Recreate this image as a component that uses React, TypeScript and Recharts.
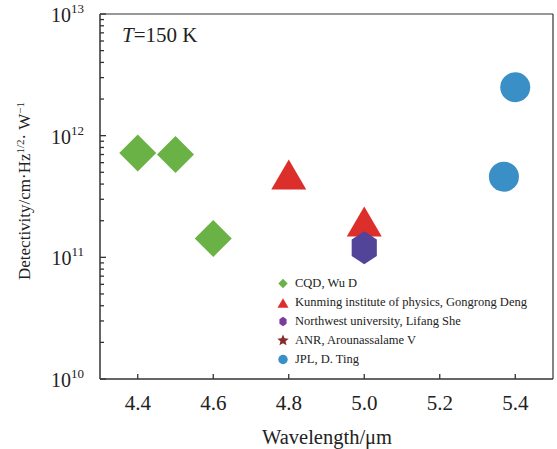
import { ScatterChart, Scatter, XAxis, YAxis, ReferenceLine, Label } from 'recharts';

const CQD_X = [4.4, 4.5, 4.6];
const CQD_Y = [7.2e11, 7.0e11, 1.43e11];
const KUNMING_X = [4.8, 5.0];
const KUNMING_Y = [4.8e11, 1.97e11];
const NW_X = [5.0];
const NW_Y = [1.2e11];
const ANR_X: number[] = [];
const ANR_Y: number[] = [];
const JPL_X = [5.4, 5.37];
const JPL_Y = [2.5e12, 4.6e11];

const X_TICKS = [4.4, 4.6, 4.8, 5.0, 5.2, 5.4];
const Y_MAJOR = [1e10, 1e11, 1e12, 1e13];
const Y_TICKS = [1e10, 1e11, 1e12].flatMap(d => [1, 2, 3, 4, 5, 6, 7, 8, 9].map(m => m * d)).concat([1e13]);

const FONT = '"Liberation Serif", "Times New Roman", serif';
const AXIS = '#333';
const PLOT_LEFT = 100;
const PLOT_BOTTOM = 379;

const zip = (xs: number[], ys: number[]) => xs.map((x, i) => ({ x, y: ys[i] }));

const SERIES = [
  { name: 'CQD, Wu D', color: '#6ab245', shape: 'diamond', data: zip(CQD_X, CQD_Y) },
  { name: 'Kunming institute of physics, Gongrong Deng', color: '#dc2f2c', shape: 'triangle', data: zip(KUNMING_X, KUNMING_Y) },
  { name: 'Northwest university, Lifang She', color: '#524499', legendColor: '#7a3a9e', shape: 'hexagon', data: zip(NW_X, NW_Y) },
  { name: 'ANR, Arounassalame V', color: '#8b2a2a', shape: 'star', data: zip(ANR_X, ANR_Y) },
  { name: 'JPL, D. Ting', color: '#3a8fc7', shape: 'circle', data: zip(JPL_X, JPL_Y) },
];

function marker(shape: string, cx: number, cy: number, s: number, fill: string) {
  if (shape === 'diamond') {
    return <polygon points={`${cx},${cy - s} ${cx + s},${cy} ${cx},${cy + s} ${cx - s},${cy}`} fill={fill} />;
  }
  if (shape === 'triangle') {
    const w = s * 1.0, h = s * 0.86;
    return <polygon points={`${cx},${cy - h} ${cx + w},${cy + h} ${cx - w},${cy + h}`} fill={fill} />;
  }
  if (shape === 'hexagon') {
    const pts = [0, 1, 2, 3, 4, 5].map(i => {
      const a = -Math.PI / 2 + (i * Math.PI) / 3;
      return `${cx + s * 0.88 * Math.cos(a)},${cy + s * Math.sin(a)}`;
    });
    return <polygon points={pts.join(' ')} fill={fill} />;
  }
  if (shape === 'star') {
    const pts = Array.from({ length: 10 }, (_, i) => {
      const r = i % 2 === 0 ? s : s * 0.45;
      const a = -Math.PI / 2 + (i * Math.PI) / 5;
      return `${cx + r * Math.cos(a)},${cy + r * Math.sin(a)}`;
    });
    return <polygon points={pts.join(' ')} fill={fill} />;
  }
  return <circle cx={cx} cy={cy} r={s} fill={fill} />;
}

const SIZES: Record<string, number> = { diamond: 18.5, triangle: 17.5, hexagon: 16.5, star: 8, circle: 15 };

const YTick = (props: any) => {
  const { y, payload } = props;
  const v = payload.value;
  const major = Y_MAJOR.some(m => Math.abs(m - v) / m < 1e-6);
  const exp = Math.round(Math.log10(v));
  return (
    <g>
      <line x1={PLOT_LEFT} x2={PLOT_LEFT + (major ? 6 : 4)} y1={y} y2={y} stroke={AXIS} strokeWidth={1.3} />
      {major && (
        <text x={84} y={y + 8} textAnchor="end" fontFamily={FONT} fontSize={20} fill="#222">
          <tspan>10</tspan>
          <tspan dy={-9} fontSize={13}>{exp}</tspan>
        </text>
      )}
    </g>
  );
};

const XTick = (props: any) => {
  const { x, payload } = props;
  return (
    <g>
      <line x1={x} x2={x} y1={PLOT_BOTTOM} y2={PLOT_BOTTOM - 5} stroke={AXIS} strokeWidth={1.3} />
      <text x={x} y={410} textAnchor="middle" fontFamily={FONT} fontSize={21} fill="#222">
        {payload.value.toFixed(1)}
      </text>
    </g>
  );
};

const LegendBox = () => (
  <div style={{ fontFamily: FONT, fontSize: 12.5, color: '#222', lineHeight: '19px' }}>
    {SERIES.map(s => (
      <div key={s.name} style={{ display: 'flex', alignItems: 'center' }}>
        <svg width={16} height={19} style={{ marginRight: 4 }}>
          {marker(s.shape, 8, s.shape === 'triangle' ? 10 : 9.5, s.shape === 'star' ? 6 : s.shape === 'triangle' ? 5.5 : 4.7, s.legendColor ?? s.color)}
        </svg>
        <span>{s.name}</span>
      </div>
    ))}
  </div>
);

export default function App() {
  return (
    <div style={{ position: 'absolute', left: 0, top: 0, width: 557, height: 449 }}>
      <ScatterChart width={557} height={449} margin={{ top: 14, right: 4, left: 0, bottom: 0 }}>
        <XAxis
          type="number"
          dataKey="x"
          domain={[4.3, 5.5]}
          ticks={X_TICKS}
          tick={<XTick />}
          tickLine={false}
          height={70}
          axisLine={{ stroke: AXIS, strokeWidth: 1.5 }}
        >
          <Label
            content={() => (
              <text x={327} y={444} textAnchor="middle" fontFamily={FONT} fontSize={20.5} fill="#222">
                Wavelength/μm
              </text>
            )}
          />
        </XAxis>
        <YAxis
          type="number"
          dataKey="y"
          scale="log"
          domain={[1e10, 1e13]}
          ticks={Y_TICKS}
          interval={0}
          tick={<YTick />}
          tickLine={false}
          width={100}
          allowDataOverflow
          axisLine={{ stroke: AXIS, strokeWidth: 1.5 }}
        >
          <Label
            content={() => (
              <g>
                <text transform="translate(30,191) rotate(-90)" textAnchor="middle" fontFamily={FONT} fontSize={17} fill="#222">
                  <tspan>Detectivity/cm·Hz</tspan>
                  <tspan dy={-6} fontSize={11}>1/2</tspan>
                  <tspan dy={6}>· W</tspan>
                  <tspan dy={-6} fontSize={11}>−1</tspan>
                </text>
                <text x={122} y={42} fontFamily={FONT} fontSize={21} fill="#222">
                  <tspan fontStyle="italic">T</tspan>=150 K
                </text>
              </g>
            )}
          />
        </YAxis>
        <ReferenceLine y={1e13} stroke={AXIS} strokeWidth={1.2} />
        <ReferenceLine x={5.5} stroke={AXIS} strokeWidth={1.2} />
        {SERIES.map(s => (
          <Scatter
            key={s.name}
            name={s.name}
            data={s.data}
            isAnimationActive={false}
            shape={(p: any) => marker(s.shape, p.cx, p.cy, SIZES[s.shape], s.color)}
          />
        ))}
      </ScatterChart>
      <div style={{ position: 'absolute', left: 275, top: 274 }}>
        <LegendBox />
      </div>
    </div>
  );
}
